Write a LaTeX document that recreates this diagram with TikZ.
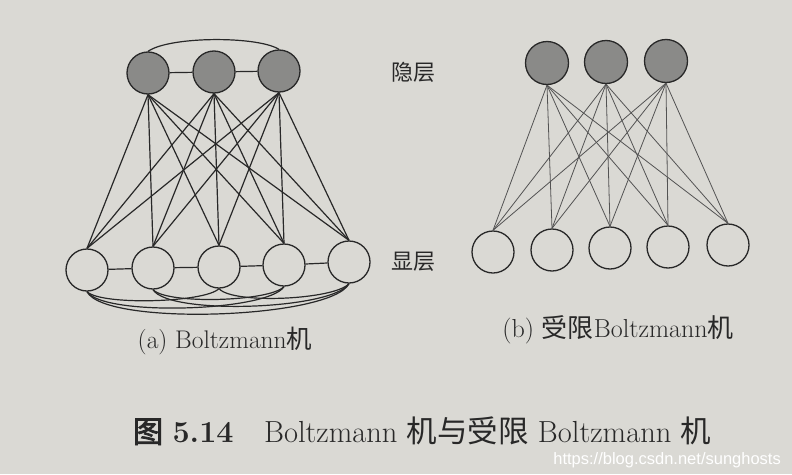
\documentclass[tikz,border=0pt]{standalone}
\usepackage{fontspec}
\newfontfamily\cjk[AutoFakeBold=2.5]{Noto Sans CJK SC}
\newfontfamily\wmfont{Liberation Sans}
\definecolor{paper}{RGB}{218,217,212}
\definecolor{ink}{RGB}{40,40,40}
\definecolor{hidfill}{RGB}{138,138,136}
\tikzset{
  unit/.style={circle, draw=ink, line width=1.3pt, minimum size=42pt, inner sep=0pt},
  hid/.style={unit, fill=hidfill},
  vis/.style={unit, fill=paper},
  edgea/.style={draw=ink, line width=1.2pt},
  edgeb/.style={draw=ink!80, line width=0.8pt},
  lbl/.style={text=ink, inner sep=0pt}
}
\begin{document}
\begin{tikzpicture}[x=1pt,y=-1pt]
\fill[paper] (0,0) rectangle (792,474);
\useasboundingbox (0,0) rectangle (792,474);

% ---------- (a) Boltzmann machine ----------
\node[hid] (ha1) at (148,73) {};
\node[hid] (ha2) at (214,72) {};
\node[hid] (ha3) at (279,71) {};
\node[vis] (va1) at (87,270) {};
\node[vis] (va2) at (153,268) {};
\node[vis] (va3) at (219,267) {};
\node[vis] (va4) at (284,265) {};
\node[vis] (va5) at (349,262) {};

\foreach \i in {1,2,3}{
  \foreach \j in {1,...,5}{
    \draw[edgea] (ha\i.south) -- (va\j.north);
  }
}
\draw[edgea] (ha1) -- (ha2);
\draw[edgea] (ha2) -- (ha3);
\draw[edgea] (ha1.north) .. controls (170,36) and (258,36) .. (ha3.north);
\draw[edgea] (va1) -- (va2);
\draw[edgea] (va2) -- (va3);
\draw[edgea] (va3) -- (va4);
\draw[edgea] (va4) -- (va5);
% long-range visible connections
\draw[edgea] (va1.south) .. controls +(14,14) and +(-14,14) .. (va3.south);
\draw[edgea] (va2.south) .. controls +(14,15) and +(-14,15) .. (va4.south);
\draw[edgea] (va3.south) .. controls +(14,16) and +(-14,16) .. (va5.south);
\draw[edgea] (va1.south) .. controls +(16,25) and +(-16,25) .. (va4.south);
\draw[edgea] (va2.south) .. controls +(16,26) and +(-16,26) .. (va5.south);
\draw[edgea] (va1.south) .. controls +(18,35) and +(-18,35) .. (va5.south);

% ---------- (b) restricted Boltzmann machine ----------
\node[hid, minimum size=43pt] (hb1) at (547,63) {};
\node[hid, minimum size=43pt] (hb2) at (606,62) {};
\node[hid, minimum size=43pt] (hb3) at (666,61) {};
\node[vis] (vb1) at (493,252) {};
\node[vis] (vb2) at (552,250) {};
\node[vis] (vb3) at (610,248) {};
\node[vis] (vb4) at (668,247) {};
\node[vis] (vb5) at (728,245) {};
\foreach \i in {1,2,3}{
  \foreach \j in {1,...,5}{
    \draw[edgeb] (hb\i.south) -- (vb\j.north);
  }
}

% ---------- labels ----------
\node[lbl, font=\fontsize{22}{24}\selectfont] (lhid) at (413,72) {\cjk 隐层};
\node[lbl, font=\fontsize{22}{24}\selectfont] (lvis) at (413,262) {\cjk 显层};
\node[lbl, font=\fontsize{25.5}{28}\selectfont] (capa) at (225,341) {(a) Boltzmann{\cjk 机}};
\node[lbl, font=\fontsize{26}{28}\selectfont] (capb) at (618,330) {(b) {\cjk 受限}Boltzmann{\cjk 机}};
\node[lbl, font=\fontsize{30.5}{34}\selectfont] (fig) at (422,431)
  {{\cjk\bfseries 图}\ \textbf{5.14}\quad Boltzmann {\cjk 机与受限} Boltzmann {\cjk 机}};
\node[lbl, text=white, anchor=east, font=\wmfont\fontsize{16.5}{18}\selectfont] (wm) at (781,460) {https://blog.csdn.net/sunghosts};
\end{tikzpicture}
\end{document}
